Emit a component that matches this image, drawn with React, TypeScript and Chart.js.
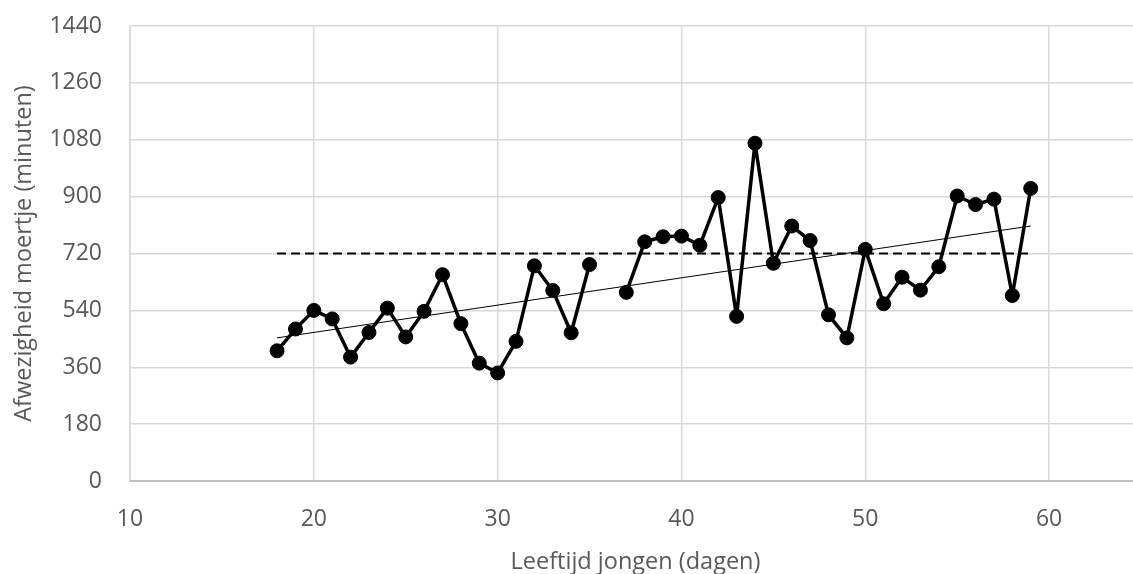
import React, { useEffect, useRef } from "react";
import { Chart, registerables } from "chart.js";

Chart.register(...registerables);

const days = [18, 19, 20, 21, 22, 23, 24, 25, 26, 27, 28, 29, 30, 31, 32, 33, 34, 35, 36, 37, 38, 39, 40, 41, 42, 43, 44, 45, 46, 47, 48, 49, 50, 51, 52, 53, 54, 55, 56, 57, 58, 59];
const absence: (number | null)[] = [412, 481, 540, 513, 392, 470, 547, 456, 537, 653, 498, 373, 342, 442, 681, 603, 469, 685, null, 597, 757, 773, 775, 746, 897, 521, 1069, 689, 807, 761, 526, 453, 733, 561, 645, 604, 678, 902, 875, 892, 587, 926];
const referenceX = [18, 59];
const referenceY = [720, 720];
const trendX = [18, 59];
const trendY = [453, 807];
const yTicks = [0, 180, 360, 540, 720, 900, 1080, 1260, 1440];
const xTicks = [10, 20, 30, 40, 50, 60];

const FONT = "'Open Sans', 'DejaVu Sans', sans-serif";
const TEXT = "#595959";

export default function App() {
  const ref = useRef<HTMLCanvasElement>(null);
  useEffect(() => {
    if (!ref.current) return;
    const chart = new Chart(ref.current, {
      type: "line",
      data: {
        datasets: [
          {
            label: "Afwezigheid",
            data: days.map((d, i) => ({ x: d, y: absence[i] })),
            borderColor: "#000",
            backgroundColor: "#000",
            borderWidth: 3.5,
            borderJoinStyle: "round",
            borderCapStyle: "round",
            pointRadius: 7,
            pointBackgroundColor: "#000",
            pointBorderColor: "#000",
            pointBorderWidth: 1,
            spanGaps: false,
            tension: 0,
            order: 1,
          },
          {
            label: "Referentie",
            data: referenceX.map((d, i) => ({ x: d, y: referenceY[i] })),
            borderColor: "#000",
            borderWidth: 2,
            borderDash: [9, 5],
            pointRadius: 0,
            order: 2,
          },
          {
            label: "Trend",
            data: trendX.map((d, i) => ({ x: d, y: trendY[i] })),
            borderColor: "#000",
            borderWidth: 1,
            pointRadius: 0,
            order: 0,
          },
        ],
      },
      options: {
        responsive: false,
        animation: false,
        devicePixelRatio: 1,
        layout: { padding: { top: 26, left: 0, right: 0, bottom: 0 } },
        plugins: { legend: { display: false }, tooltip: { enabled: false } },
        scales: {
          x: {
            type: "linear",
            min: 10,
            max: 65,
            afterBuildTicks: (s: any) => {
              s.ticks = xTicks.map((v) => ({ value: v }));
            },
            afterFit: (s: any) => {
              s.height = 93;
              s.paddingRight = 0;
            },
            ticks: {
              includeBounds: false,
              color: TEXT,
              font: { family: FONT, size: 23 },
              padding: 25,
              maxRotation: 0,
              callback: (v: any) => String(v),
            },
            grid: { color: "#d9d9d9", lineWidth: 1.5, drawTicks: false },
            border: { color: "#bfbfbf", width: 2 },
            title: {
              display: true,
              text: "Leeftijd jongen (dagen)",
              color: TEXT,
              font: { family: FONT, size: 23.5 },
              padding: { top: 0, bottom: -2 },
            },
          },
          y: {
            min: 0,
            max: 1440,
            afterBuildTicks: (s: any) => {
              s.ticks = yTicks.map((v) => ({ value: v }));
            },
            afterFit: (s: any) => {
              s.width = 130;
              s.paddingTop = 0;
              s.paddingBottom = 0;
            },
            ticks: {
              color: TEXT,
              font: { family: FONT, size: 23 },
              padding: 28,
              callback: (v: any) => String(v),
            },
            grid: { color: "#d9d9d9", lineWidth: 1.5, drawTicks: false },
            border: { color: "#d9d9d9", width: 1.5 },
            title: {
              display: true,
              text: "Afwezigheid moertje (minuten)",
              color: TEXT,
              font: { family: FONT, size: 23.5 },
              padding: { top: 10, bottom: 0 },
            },
          },
        },
      },
    });
    return () => chart.destroy();
  }, []);
  return (
    <div
      style={{
        position: "fixed",
        left: 0,
        top: 0,
        width: 1133,
        height: 574,
        overflow: "hidden",
        background: "#fff",
      }}
    >
      <canvas ref={ref} width={1149} height={574} style={{ display: "block", width: 1149, height: 574 }} />
    </div>
  );
}
